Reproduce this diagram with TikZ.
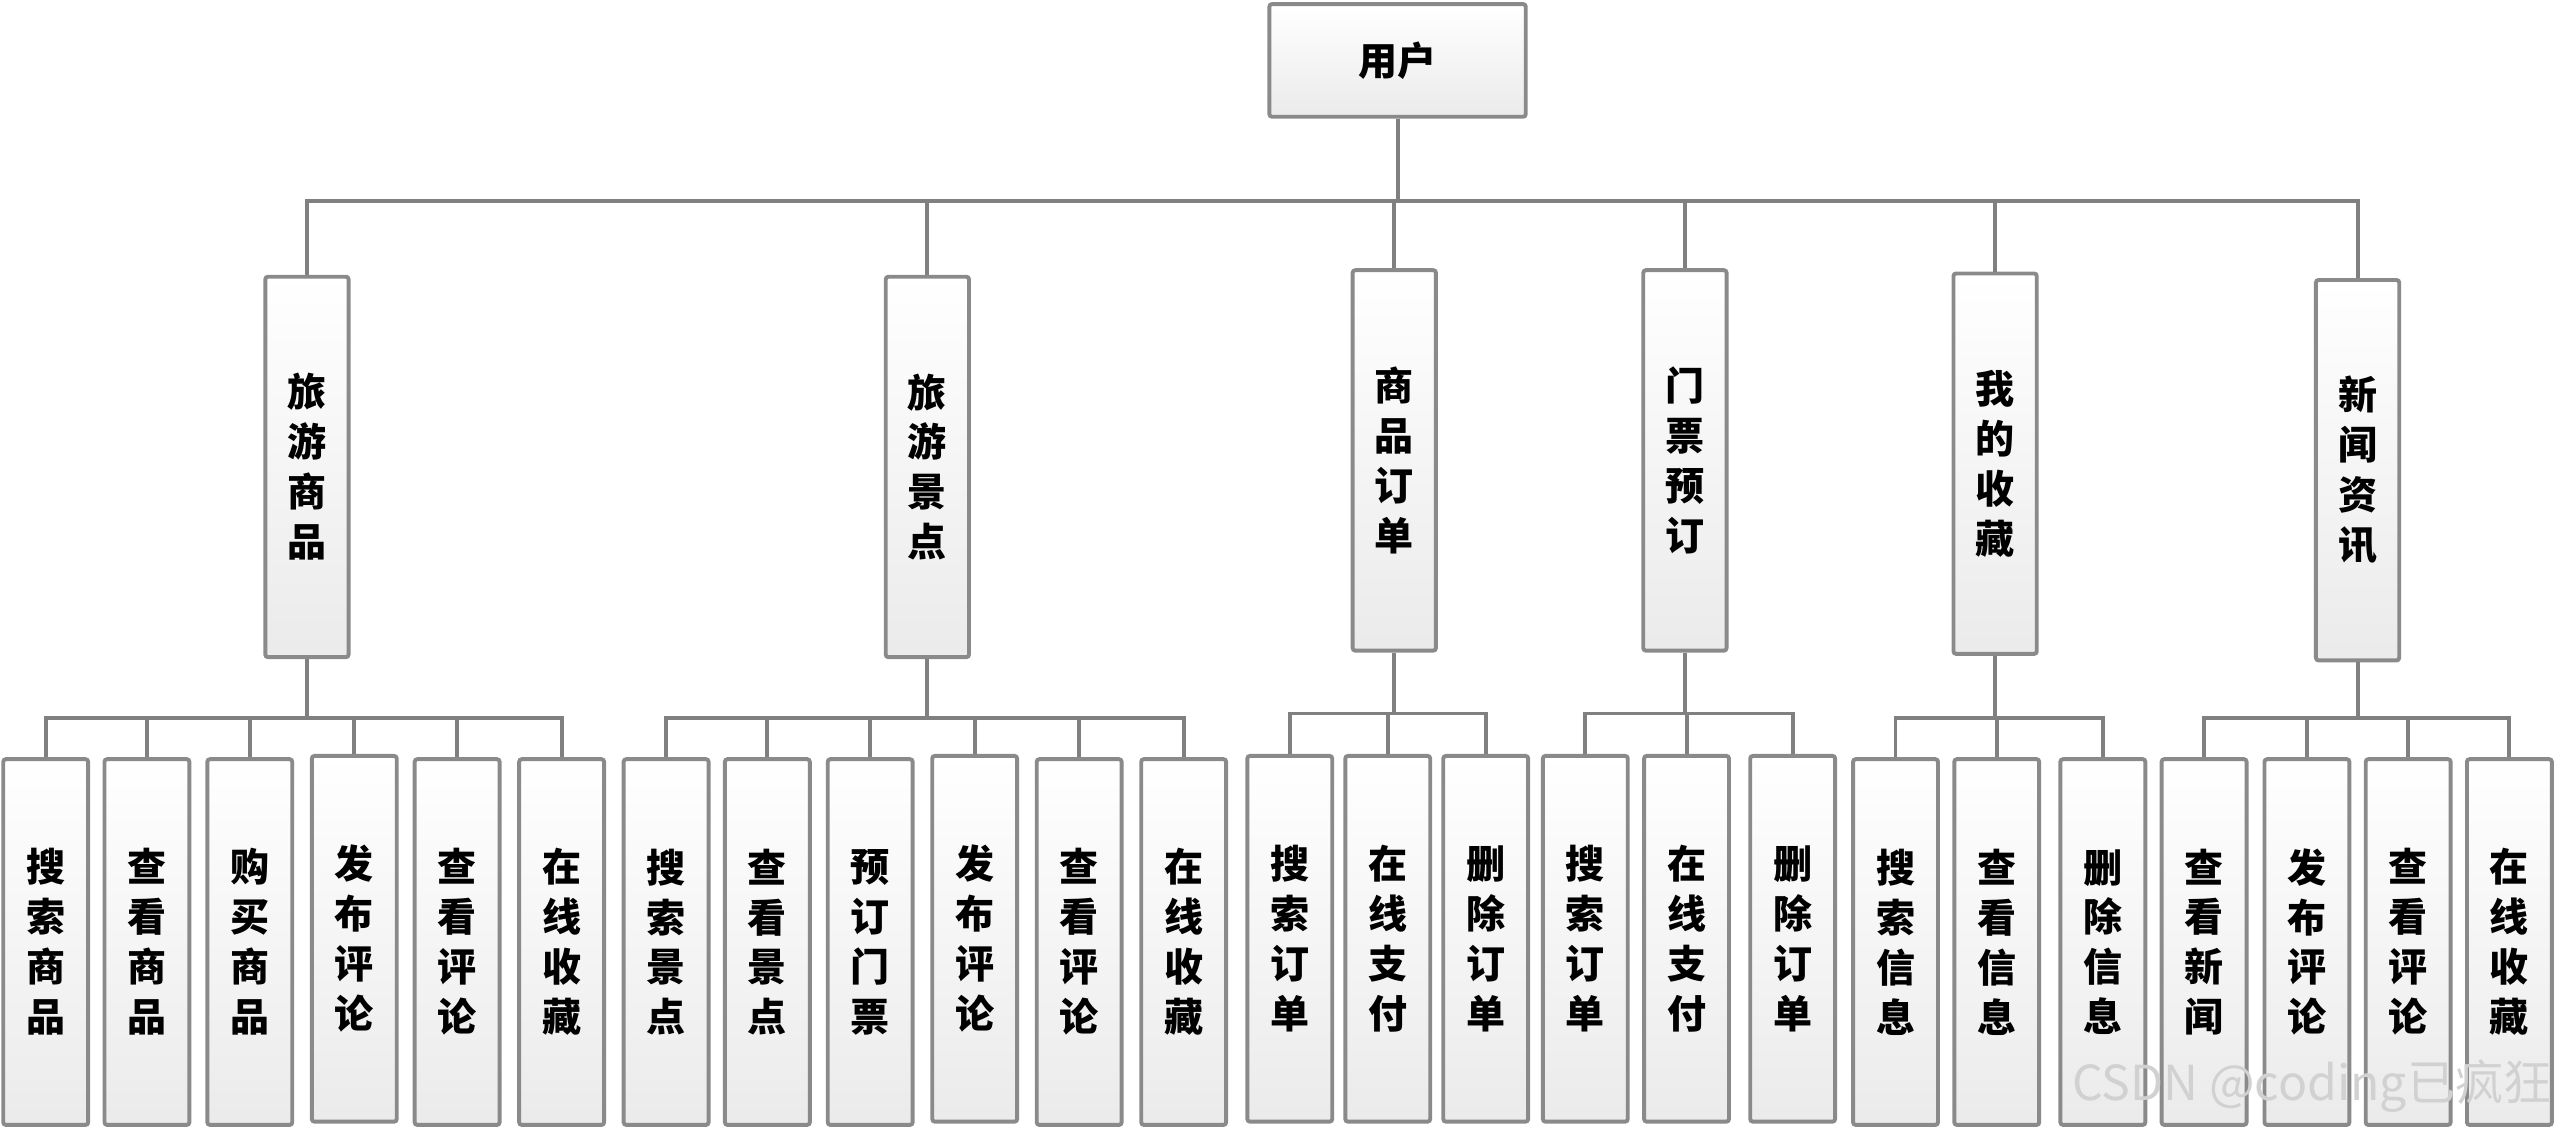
\documentclass[tikz,border=0pt]{standalone}
\usepackage{fontspec}
\newfontfamily\cjk{Noto Sans CJK SC}
\definecolor{boxgray}{HTML}{8A8A8A}
\definecolor{linegray}{HTML}{808080}
\begin{document}
\begin{tikzpicture}[x=0.5mm,y=-0.5mm,
    box/.style={draw=boxgray, line width=1.2mm, rounded corners=0.8mm, top color=white, bottom color=black!8,
      inner sep=0pt, align=center, font=\cjk\bfseries\fontsize{34}{43.5}\selectfont},
    topbox/.style={box, minimum width=78.5mm, minimum height=34.5mm},
    midbox/.style={box, minimum width=25.5mm, minimum height=116.5mm},
    leafbox/.style={box, minimum width=26mm, minimum height=112mm},
    link/.style={draw=linegray, line width=1.2mm}]
  \useasboundingbox (0,0) rectangle (1568,694);

  % top
  \node[topbox] (user) at (856,37) {用户};

  % second level
  \node[midbox] (tg) at (188,286) {旅\\游\\商\\品};
  \node[midbox] (ts) at (568,286) {旅\\游\\景\\点};
  \node[midbox] (go) at (854,282) {商\\品\\订\\单};
  \node[midbox] (tk) at (1032,282) {门\\票\\预\\订};
  \node[midbox] (fv) at (1222,284) {我\\的\\收\\藏};
  \node[midbox] (nw) at (1444,288) {新\\闻\\资\\讯};

  % leaves
  \node[leafbox] (tg1) at (28,577) {搜\\索\\商\\品};
  \node[leafbox] (tg2) at (90,577) {查\\看\\商\\品};
  \node[leafbox] (tg3) at (153,577) {购\\买\\商\\品};
  \node[leafbox] (tg4) at (217,575) {发\\布\\评\\论};
  \node[leafbox] (tg5) at (280,577) {查\\看\\评\\论};
  \node[leafbox] (tg6) at (344,577) {在\\线\\收\\藏};

  \node[leafbox] (ts1) at (408,577) {搜\\索\\景\\点};
  \node[leafbox] (ts2) at (470,577) {查\\看\\景\\点};
  \node[leafbox] (ts3) at (533,577) {预\\订\\门\\票};
  \node[leafbox] (ts4) at (597,575) {发\\布\\评\\论};
  \node[leafbox] (ts5) at (661,577) {查\\看\\评\\论};
  \node[leafbox] (ts6) at (725,577) {在\\线\\收\\藏};

  \node[leafbox] (go1) at (790,575) {搜\\索\\订\\单};
  \node[leafbox] (go2) at (850,575) {在\\线\\支\\付};
  \node[leafbox] (go3) at (910,575) {删\\除\\订\\单};

  \node[leafbox] (tk1) at (971,575) {搜\\索\\订\\单};
  \node[leafbox] (tk2) at (1033,575) {在\\线\\支\\付};
  \node[leafbox] (tk3) at (1098,575) {删\\除\\订\\单};

  \node[leafbox] (fv1) at (1161,577) {搜\\索\\信\\息};
  \node[leafbox] (fv2) at (1223,577) {查\\看\\信\\息};
  \node[leafbox] (fv3) at (1288,577) {删\\除\\信\\息};

  \node[leafbox] (nw1) at (1350,577) {查\\看\\新\\闻};
  \node[leafbox] (nw2) at (1413,577) {发\\布\\评\\论};
  \node[leafbox] (nw3) at (1475,577) {查\\看\\评\\论};
  \node[leafbox] (nw4) at (1537,577) {在\\线\\收\\藏};

  % buses
  \coordinate (ubus) at (856,123);
  \coordinate (tgbus) at (188,440);
  \coordinate (tsbus) at (568,440);
  \coordinate (gobus) at (854,437);
  \coordinate (tkbus) at (1032,437);
  \coordinate (fvbus) at (1222,440);
  \coordinate (nwbus) at (1444,440);

  \draw[link] (user.south) -- (ubus);
  \draw[link] (ubus) -| (tg.north); \draw[link] (ubus) -| (ts.north);
  \draw[link] (ubus) -| (go.north); \draw[link] (ubus) -| (tk.north);
  \draw[link] (ubus) -| (fv.north); \draw[link] (ubus) -| (nw.north);

  \draw[link] (tg.south) -- (tgbus);
  \draw[link] (tgbus) -| (tg1.north); \draw[link] (tgbus) -| (tg2.north); \draw[link] (tgbus) -| (tg3.north);
  \draw[link] (tgbus) -| (tg4.north); \draw[link] (tgbus) -| (tg5.north); \draw[link] (tgbus) -| (tg6.north);

  \draw[link] (ts.south) -- (tsbus);
  \draw[link] (tsbus) -| (ts1.north); \draw[link] (tsbus) -| (ts2.north); \draw[link] (tsbus) -| (ts3.north);
  \draw[link] (tsbus) -| (ts4.north); \draw[link] (tsbus) -| (ts5.north); \draw[link] (tsbus) -| (ts6.north);

  \draw[link] (go.south) -- (gobus);
  \draw[link] (gobus) -| (go1.north); \draw[link] (gobus) -| (go2.north); \draw[link] (gobus) -| (go3.north);

  \draw[link] (tk.south) -- (tkbus);
  \draw[link] (tkbus) -| (tk1.north); \draw[link] (tkbus) -| (tk2.north); \draw[link] (tkbus) -| (tk3.north);

  \draw[link] (fv.south) -- (fvbus);
  \draw[link] (fvbus) -| (fv1.north); \draw[link] (fvbus) -| (fv2.north); \draw[link] (fvbus) -| (fv3.north);

  \draw[link] (nw.south) -- (nwbus);
  \draw[link] (nwbus) -| (nw1.north); \draw[link] (nwbus) -| (nw2.north);
  \draw[link] (nwbus) -| (nw3.north); \draw[link] (nwbus) -| (nw4.north);

  % watermark
  \node[anchor=east, text=black!18, inner sep=0pt, font=\cjk\fontsize{42}{42}\selectfont] (mark) at (1563,665) {CSDN @coding已疯狂};
\end{tikzpicture}
\end{document}
